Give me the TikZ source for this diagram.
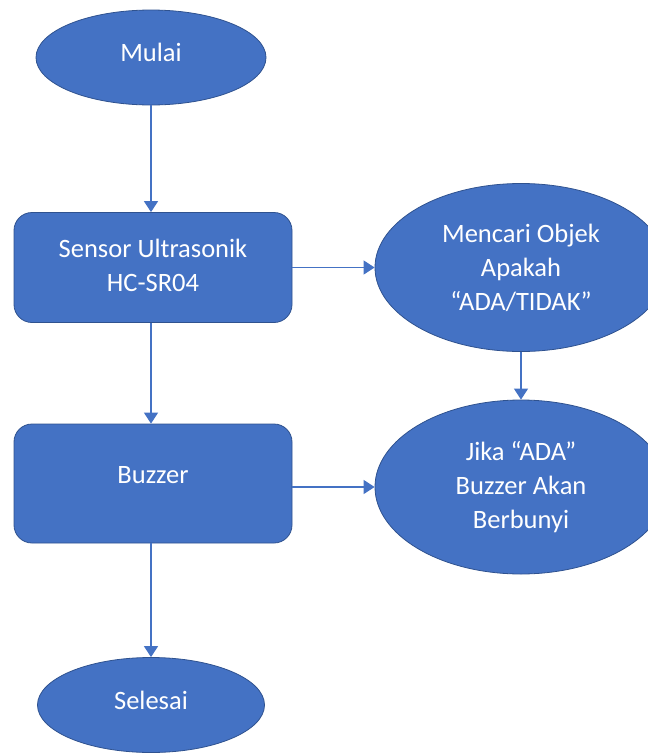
\documentclass[tikz,border=0pt]{standalone}
\usepackage{fontspec}
\setmainfont{Carlito}
\usepackage{tikz}
\usetikzlibrary{shapes.geometric,arrows.meta}
\definecolor{officeblue}{HTML}{4472C4}
\definecolor{officeline}{HTML}{2F528F}
\tikzset{
  flowtext/.style={text=white, align=center, font=\fontsize{26.5}{34}\selectfont, inner sep=0pt},
  oval/.style={flowtext, ellipse, fill=officeblue, draw=officeline, line width=0.8pt},
  procbox/.style={flowtext, rectangle, rounded corners=18pt, fill=officeblue, draw=officeline, line width=0.8pt},
  flowarrow/.style={draw=officeblue, line width=1.3pt, -{Triangle[width=14pt,length=11pt]}}
}
\begin{document}
\begin{tikzpicture}[x=1pt, y=-1pt]
      \useasboundingbox (0,0) rectangle (648,753);
      \node[oval, minimum width=230pt, minimum height=95pt] (mulai) at (151,57.5) {\raisebox{10pt}{Mulai}};
      \node[procbox, minimum width=278pt, minimum height=110pt] (sensor) at (153,267.5) {\raisebox{10pt}{\begin{tabular}{@{}c@{}}Sensor Ultrasonik\\HC-SR04\end{tabular}}};
      \node[procbox, minimum width=278pt, minimum height=119pt] (buzzer) at (153,483.5) {\raisebox{17pt}{Buzzer}};
      \node[oval, minimum width=227pt, minimum height=95pt] (selesai) at (151,705) {\raisebox{10pt}{Selesai}};
      \node[oval, minimum width=292pt, minimum height=168pt] (cari) at (521,267.5) {Mencari Objek\\Apakah\\“ADA/TIDAK”};
      \node[oval, minimum width=292pt, minimum height=174pt] (jika) at (521,487) {Jika “ADA”\\Buzzer Akan\\Berbunyi};
      \draw[flowarrow] (mulai.south) -- (mulai.south |- sensor.north);
      \draw[flowarrow] (mulai.south |- sensor.south) -- (mulai.south |- buzzer.north);
      \draw[flowarrow] (mulai.south |- buzzer.south) -- (selesai.north);
      \draw[flowarrow] (sensor.east) -- (cari.west);
      \draw[flowarrow] (cari.south) -- (jika.north);
      \draw[flowarrow] (buzzer.east |- jika.west) -- (jika.west);
    \end{tikzpicture}
\end{document}
